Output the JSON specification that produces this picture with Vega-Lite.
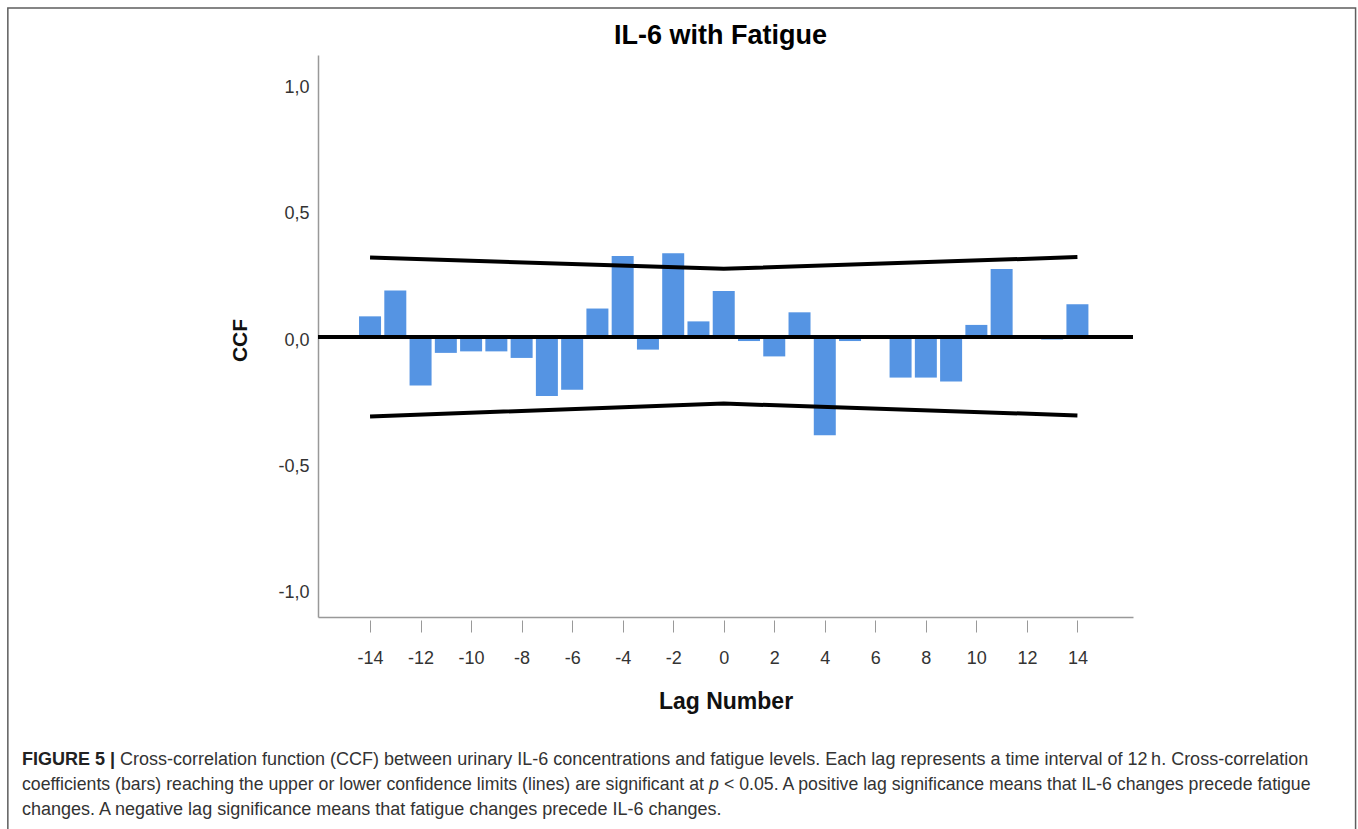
{
  "$schema": "https://vega.github.io/schema/vega-lite/v6.json",
  "width": 815,
  "height": 562,
  "autosize": "none",
  "padding": {"left": 318, "top": 55, "right": 225, "bottom": 212},
  "background": "white",
  "config": {"view": {"stroke": null}, "font": "Liberation Sans", "scale": {"continuousPadding": 0}},
  "datasets": {
    "ccf": [
      {"lag": -14, "ccf": 0.082}, {"lag": -13, "ccf": 0.185}, {"lag": -12, "ccf": -0.192},
      {"lag": -11, "ccf": -0.063}, {"lag": -10, "ccf": -0.057}, {"lag": -9, "ccf": -0.057},
      {"lag": -8, "ccf": -0.083}, {"lag": -7, "ccf": -0.234}, {"lag": -6, "ccf": -0.209},
      {"lag": -5, "ccf": 0.113}, {"lag": -4, "ccf": 0.321}, {"lag": -3, "ccf": -0.05},
      {"lag": -2, "ccf": 0.332}, {"lag": -1, "ccf": 0.062}, {"lag": 0, "ccf": 0.183},
      {"lag": 1, "ccf": -0.016}, {"lag": 2, "ccf": -0.077}, {"lag": 3, "ccf": 0.098},
      {"lag": 4, "ccf": -0.39}, {"lag": 5, "ccf": -0.016}, {"lag": 6, "ccf": 0.0},
      {"lag": 7, "ccf": -0.161}, {"lag": 8, "ccf": -0.161}, {"lag": 9, "ccf": -0.177},
      {"lag": 10, "ccf": 0.048}, {"lag": 11, "ccf": 0.27}, {"lag": 12, "ccf": 0.0},
      {"lag": 13, "ccf": -0.01}, {"lag": 14, "ccf": 0.13}
    ],
    "limits": [
      {"lag": -14, "upper": 0.315, "lower": -0.315},
      {"lag": 0, "upper": 0.271, "lower": -0.264},
      {"lag": 14, "upper": 0.317, "lower": -0.311}
    ],
    "one": [{}]
  },
  "resolve": {"axis": {"x": "independent", "y": "independent"}},
  "layer": [
    {
      "data": {"name": "one"},
      "mark": {"type": "rect", "filled": false, "stroke": "#5e5e5e", "strokeWidth": 1.5, "clip": false},
      "encoding": {
        "x": {"datum": -28.337, "type": "quantitative", "scale": {"domain": [-16.06, 16.2], "nice": false, "zero": false, "padding": 0}, "axis": null},
        "x2": {"datum": 25.01},
        "y": {"datum": 1.3055, "type": "quantitative", "scale": {"domain": [-1.111, 1.119], "nice": false, "zero": false, "padding": 0}, "axis": null},
        "y2": {"datum": -1.996}
      }
    },
    {
      "data": {"name": "ccf"},
      "mark": {"type": "bar", "orient": "vertical", "width": 22, "color": "#5594e3"},
      "encoding": {
        "x": {
          "field": "lag", "type": "quantitative",
          "scale": {"domain": [-16.06, 16.2], "nice": false, "zero": false, "padding": 0},
          "axis": {
            "orient": "bottom",
            "values": [-14, -12, -10, -8, -6, -4, -2, 0, 2, 4, 6, 8, 10, 12, 14],
            "offset": 3, "domain": false, "grid": false,
            "ticks": true, "tickSize": 12, "tickColor": "#999999", "tickWidth": 1,
            "labelExpr": "replace(format(datum.value, 'd'), '\u2212', '-')",
            "labelFont": "Liberation Sans", "labelFontSize": 18, "labelColor": "#333333",
            "labelPadding": 17, "labelBaseline": "top", "labelOverlap": false, "labelFlush": false,
            "title": "Lag Number", "titleFont": "Liberation Sans", "titleFontSize": 23, "titleFontWeight": "bold",
            "titleColor": "#111111", "titleY": 88, "titleBaseline": "alphabetic"
          }
        },
        "y": {
          "field": "ccf", "type": "quantitative",
          "scale": {"domain": [-1.111, 1.119], "nice": false, "zero": false, "padding": 0},
          "axis": {
            "orient": "left",
            "values": [-1, -0.5, 0, 0.5, 1],
            "labelExpr": "replace(replace(format(datum.value, '.1f'), '.', ','), '\u2212', '-')",
            "ticks": false, "grid": false,
            "domainColor": "#999999", "domainWidth": 1.5,
            "labelFont": "Liberation Sans", "labelFontSize": 18, "labelColor": "#333333",
            "labelPadding": 9, "labelOffset": 3, "labelFlush": false, "labelOverlap": false,
            "title": "CCF", "titleFont": "Liberation Sans", "titleFontSize": 21, "titleFontWeight": "bold",
            "titleColor": "#111111", "titleAngle": -90, "titleX": -78, "titleY": 285,
            "titleAlign": "center", "titleBaseline": "middle"
          }
        },
        "y2": {"datum": 0}
      }
    },
    {
      "data": {"name": "one"},
      "mark": {"type": "rule", "strokeWidth": 4, "color": "#000000"},
      "encoding": {
        "y": {"datum": 0, "type": "quantitative", "scale": {"domain": [-1.111, 1.119], "nice": false, "zero": false, "padding": 0}, "axis": null}
      }
    },
    {
      "data": {"name": "limits"},
      "mark": {"type": "line", "strokeWidth": 4, "color": "#000000", "strokeCap": "butt"},
      "encoding": {
        "x": {
          "field": "lag", "type": "quantitative",
          "scale": {"domain": [-16.06, 16.2], "nice": false, "zero": false, "padding": 0},
          "axis": {"orient": "bottom", "domain": true, "ticks": false, "labels": false, "grid": false, "title": null, "domainColor": "#999999", "domainWidth": 1.5}
        },
        "y": {"field": "upper", "type": "quantitative", "scale": {"domain": [-1.111, 1.119], "nice": false, "zero": false, "padding": 0}, "axis": null}
      }
    },
    {
      "data": {"name": "limits"},
      "mark": {"type": "line", "strokeWidth": 4, "color": "#000000", "strokeCap": "butt"},
      "encoding": {
        "x": {"field": "lag", "type": "quantitative", "scale": {"domain": [-16.06, 16.2], "nice": false, "zero": false, "padding": 0}, "axis": null},
        "y": {"field": "lower", "type": "quantitative", "scale": {"domain": [-1.111, 1.119], "nice": false, "zero": false, "padding": 0}, "axis": null}
      }
    },
    {
      "data": {"name": "one"},
      "mark": {"type": "text", "text": "IL-6 with Fatigue", "font": "Liberation Sans", "fontSize": 27, "fontWeight": "bold", "color": "#000000", "align": "center", "baseline": "alphabetic"},
      "encoding": {
        "x": {"datum": -0.128, "type": "quantitative", "scale": {"domain": [-16.06, 16.2], "nice": false, "zero": false, "padding": 0}, "axis": null},
        "y": {"datum": 1.1627, "type": "quantitative", "scale": {"domain": [-1.111, 1.119], "nice": false, "zero": false, "padding": 0}, "axis": null}
      }
    },
    {
      "data": {"name": "one"},
      "mark": {"type": "text", "text": "FIGURE 5 |", "font": "Liberation Sans", "fontSize": 18, "fontWeight": "bold", "color": "#222222", "align": "left", "baseline": "alphabetic"},
      "encoding": {
        "x": {"datum": -27.777, "type": "quantitative", "scale": {"domain": [-16.06, 16.2], "nice": false, "zero": false, "padding": 0}, "axis": null},
        "y": {"datum": -1.6965, "type": "quantitative", "scale": {"domain": [-1.111, 1.119], "nice": false, "zero": false, "padding": 0}, "axis": null}
      }
    },
    {
      "data": {"name": "one"},
      "mark": {"type": "text", "text": "Cross-correlation function (CCF) between urinary IL-6 concentrations and fatigue levels. Each lag represents a time interval of 12\u2009h. Cross-correlation", "font": "Liberation Sans", "fontSize": 18, "color": "#333333", "align": "left", "baseline": "alphabetic"},
      "encoding": {
        "x": {"datum": -23.897, "type": "quantitative", "scale": {"domain": [-16.06, 16.2], "nice": false, "zero": false, "padding": 0}, "axis": null},
        "y": {"datum": -1.6965, "type": "quantitative", "scale": {"domain": [-1.111, 1.119], "nice": false, "zero": false, "padding": 0}, "axis": null}
      }
    },
    {
      "data": {"name": "one"},
      "mark": {"type": "text", "text": "coefficients (bars) reaching the upper or lower confidence limits (lines) are significant at", "font": "Liberation Sans", "fontSize": 17.7, "color": "#333333", "align": "left", "baseline": "alphabetic"},
      "encoding": {
        "x": {"datum": -27.777, "type": "quantitative", "scale": {"domain": [-16.06, 16.2], "nice": false, "zero": false, "padding": 0}, "axis": null},
        "y": {"datum": -1.7957, "type": "quantitative", "scale": {"domain": [-1.111, 1.119], "nice": false, "zero": false, "padding": 0}, "axis": null}
      }
    },
    {
      "data": {"name": "one"},
      "mark": {"type": "text", "text": "p", "font": "Liberation Sans", "fontSize": 17.7, "fontStyle": "italic", "color": "#333333", "align": "left", "baseline": "alphabetic"},
      "encoding": {
        "x": {"datum": -0.583, "type": "quantitative", "scale": {"domain": [-16.06, 16.2], "nice": false, "zero": false, "padding": 0}, "axis": null},
        "y": {"datum": -1.7957, "type": "quantitative", "scale": {"domain": [-1.111, 1.119], "nice": false, "zero": false, "padding": 0}, "axis": null}
      }
    },
    {
      "data": {"name": "one"},
      "mark": {"type": "text", "text": "< 0.05. A positive lag significance means that IL-6 changes precede fatigue", "font": "Liberation Sans", "fontSize": 17.7, "color": "#333333", "align": "left", "baseline": "alphabetic"},
      "encoding": {
        "x": {"datum": 0.011, "type": "quantitative", "scale": {"domain": [-16.06, 16.2], "nice": false, "zero": false, "padding": 0}, "axis": null},
        "y": {"datum": -1.7957, "type": "quantitative", "scale": {"domain": [-1.111, 1.119], "nice": false, "zero": false, "padding": 0}, "axis": null}
      }
    },
    {
      "data": {"name": "one"},
      "mark": {"type": "text", "text": "changes. A negative lag significance means that fatigue changes precede IL-6 changes.", "font": "Liberation Sans", "fontSize": 18, "color": "#333333", "align": "left", "baseline": "alphabetic"},
      "encoding": {
        "x": {"datum": -27.777, "type": "quantitative", "scale": {"domain": [-16.06, 16.2], "nice": false, "zero": false, "padding": 0}, "axis": null},
        "y": {"datum": -1.8949, "type": "quantitative", "scale": {"domain": [-1.111, 1.119], "nice": false, "zero": false, "padding": 0}, "axis": null}
      }
    }
  ]
}
